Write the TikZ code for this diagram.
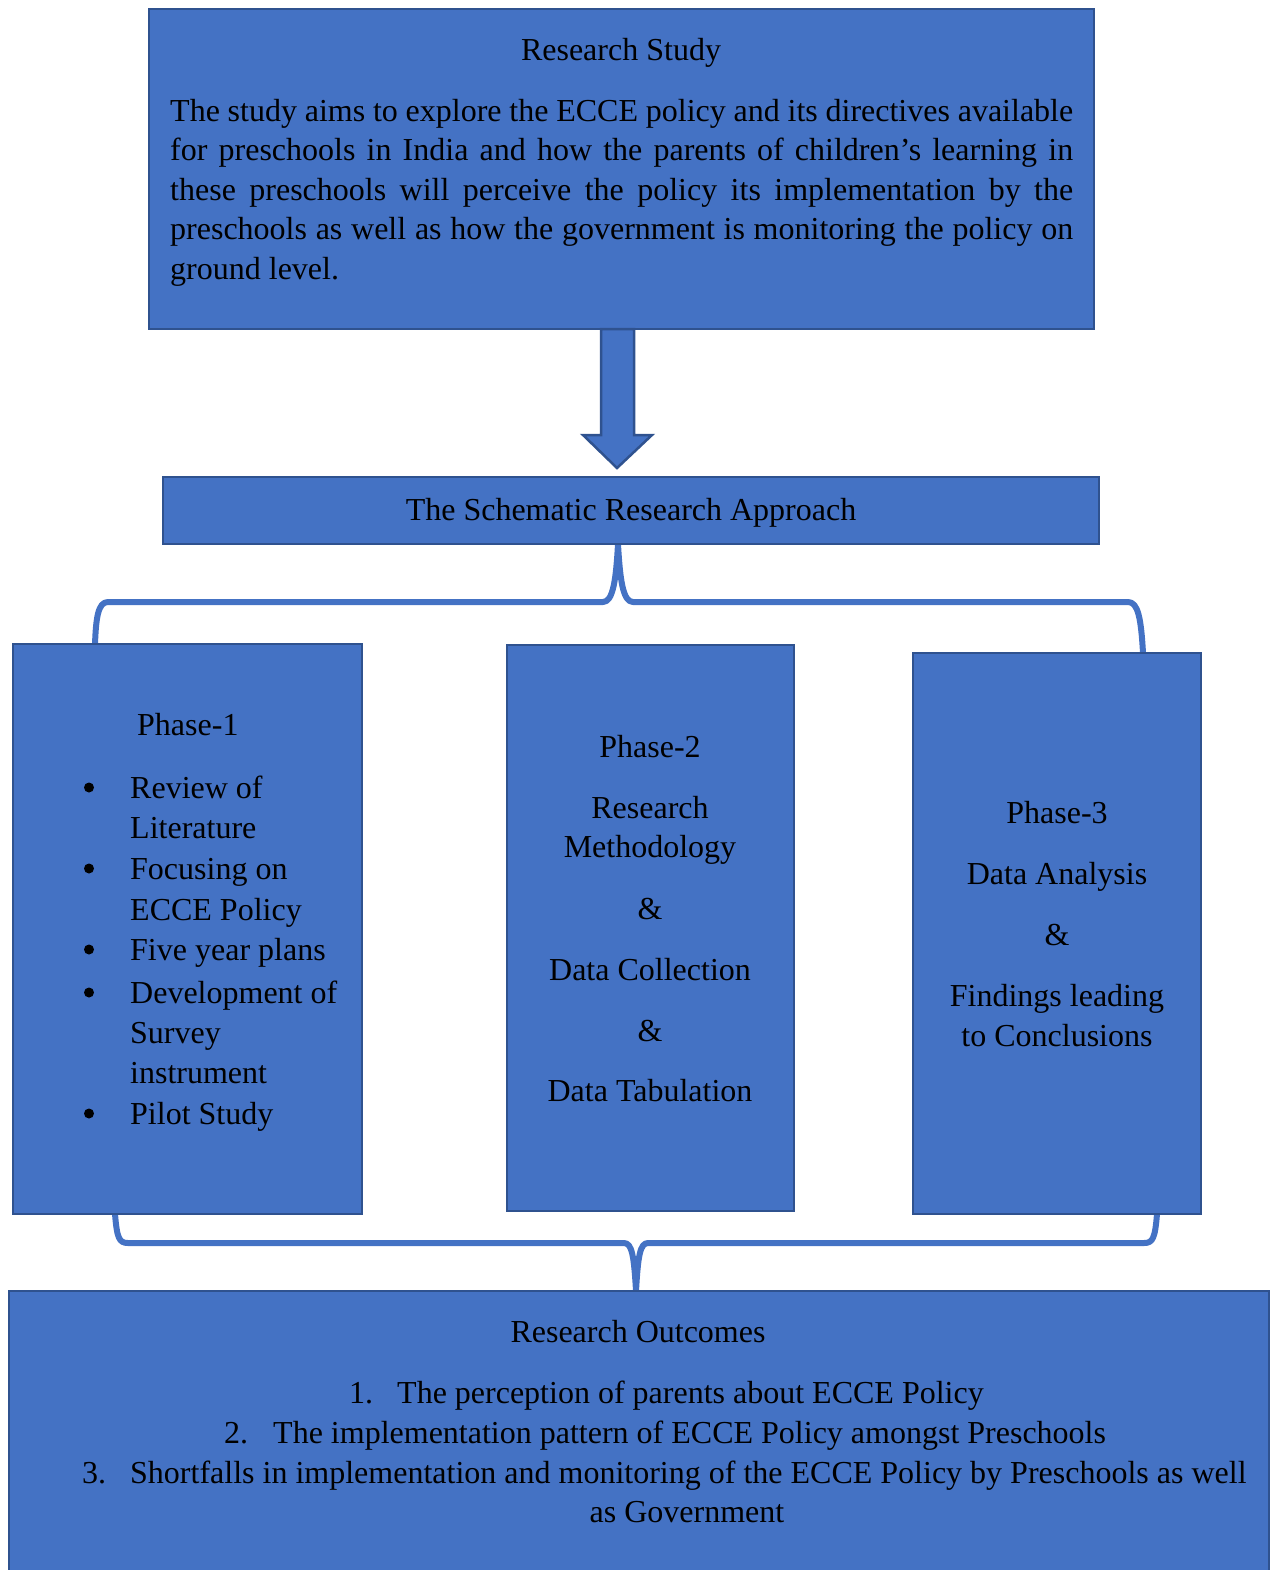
\documentclass[tikz,border=0pt]{standalone}
\usepackage{fontspec}
\setmainfont{Liberation Serif}
\definecolor{boxfill}{HTML}{4472C4}
\definecolor{boxline}{HTML}{2F528F}
\tikzset{
  box/.style={draw=boxline, fill=boxfill, line width=2.5pt, inner sep=0pt, rectangle},
  txt/.style={font=\fontsize{32}{40}\selectfont, inner sep=0pt, text=black},
  lt/.style={txt, anchor=base west},
  ct/.style={txt, anchor=base},
  bulletdot/.style={circle, fill=black, inner sep=0pt, minimum size=10pt},
  bracel/.style={draw=boxfill, line width=6pt, line join=round},
}
\begin{document}
\begin{tikzpicture}[x=1pt, y=-1pt]
\useasboundingbox (0,0) rectangle (1277,1570);
% braces (drawn first)
\coordinate (t1) at (95,644);
\coordinate (tc) at (618,544);
\coordinate (t3) at (1143,653);
\draw[bracel] (t1) .. controls (96,618) and (98,602) .. (108,602) -- (603,602)
   .. controls (613,602) and (616,580) .. (tc)
   .. controls (620,580) and (623,602) .. (633,602) -- (1128,602)
   .. controls (1138,602) and (1141,618) .. (t3);
\coordinate (u1) at (115,1214);
\coordinate (uc) at (636,1291);
\coordinate (u3) at (1157,1214);
\draw[bracel] (u1) .. controls (117,1238) and (119,1243) .. (128,1243) -- (624,1243)
   .. controls (632,1243) and (634,1256) .. (uc)
   .. controls (638,1256) and (640,1243) .. (648,1243) -- (1144,1243)
   .. controls (1153,1243) and (1155,1238) .. (u3);
% boxes
\node[box, minimum width=945pt, minimum height=320pt] (study) at (621.5,169) {};
\node[box, minimum width=936pt, minimum height=67pt] (approach) at (631,510.5) {};
\node[box, minimum width=349pt, minimum height=570pt] (p1) at (187.5,929) {};
\node[box, minimum width=287pt, minimum height=566pt] (p2) at (650.5,928) {};
\node[box, minimum width=288pt, minimum height=561pt] (p3) at (1057,933.5) {};
\node[box, minimum width=1260pt, minimum height=289pt] (out) at (639,1435.5) {};
% big arrow
\draw[draw=boxline, fill=boxfill, line width=2.5pt, line join=miter]
  (601,329) -- (634,329) -- (634,435) -- (652,435) -- (617,468) -- (583,435) -- (601,435) -- cycle;
\begin{scope}[shift={(0,1.5)}]
% research study text
\node[ct] (st) at (621,59) {Research Study};
\node[lt] (s1) at (170,120) {\hbox to 903pt{The study aims to explore the ECCE policy and its directives available}};
\node[lt] (s2) at (170,159.5) {\hbox to 903pt{for preschools in India and how the parents of children’s learning in}};
\node[lt] (s3) at (170,199) {\hbox to 903pt{these preschools will perceive the policy its implementation by the}};
\node[lt] (s4) at (170,238.5) {\hbox to 903pt{preschools as well as how the government is monitoring the policy on}};
\node[lt] (s5) at (170,278) {ground level.};
% approach
\node[ct] (at) at (631,519) {The Schematic Research Approach};
% phase 1
\node[lt] (p1t) at (137,734) {Phase-1};
\foreach \y/\t [count=\i] in {797/Review of, 878/Focusing on, 959/Five year plans, 1002/Development of, 1123/Pilot Study}{
  \node[bulletdot] (bul\i) at (89,\y-11) {};
  \node[lt] (itm\i) at (130,\y) {\t};
}
\node[lt] (c1) at (130,837) {Literature};
\node[lt] (c2) at (130,919) {ECCE Policy};
\node[lt] (c3) at (130,1042) {Survey};
\node[lt] (c4) at (130,1082) {instrument};
% phase 2
\node[ct] (q1) at (650,756) {Phase-2};
\node[ct] (q2) at (650,817) {Research};
\node[ct] (q3) at (650,856) {Methodology};
\node[ct] (q4) at (650,918) {\&};
\node[ct] (q5) at (650,979) {Data Collection};
\node[ct] (q6) at (650,1040) {\&};
\node[ct] (q7) at (650,1100) {Data Tabulation};
% phase 3
\node[ct] (r1) at (1057,822) {Phase-3};
\node[ct] (r2) at (1057,883) {Data Analysis};
\node[ct] (r3) at (1057,944) {\&};
\node[ct] (r4) at (1057,1005) {Findings leading};
\node[ct] (r5) at (1057,1045) {to Conclusions};
% outcomes
\node[ct] (ot) at (638,1341) {Research Outcomes};
\node[lt] (n1) at (349,1402) {1.};
\node[lt] (o1) at (397,1402) {The perception of parents about ECCE Policy};
\node[lt] (n2) at (224,1442) {2.};
\node[lt] (o2) at (273,1442) {The implementation pattern of ECCE Policy amongst Preschools};
\node[lt] (n3) at (82,1482) {3.};
\node[lt] (o3) at (130,1482) {Shortfalls in implementation and monitoring of the ECCE Policy by Preschools as well};
\node[ct] (o4) at (687,1521) {as Government};
\end{scope}
\end{tikzpicture}
\end{document}
